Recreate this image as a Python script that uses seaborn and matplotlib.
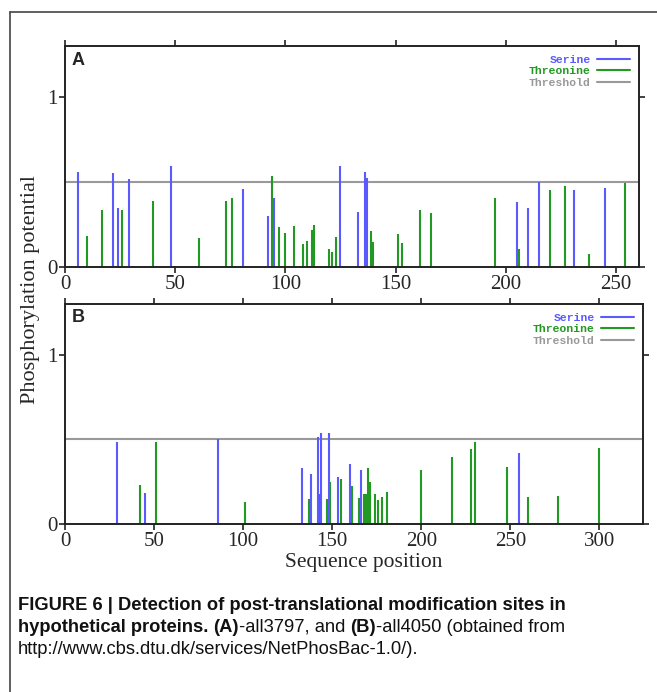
import matplotlib
matplotlib.use("Agg")
import matplotlib.pyplot as plt
from matplotlib.lines import Line2D
import seaborn as sns

# panel A (all3797)
a_ser_pos = [6, 22, 24, 29, 48, 81, 92, 95, 125, 133, 136, 137, 205, 210, 215, 231, 245]
a_ser_val = [0.56, 0.553, 0.346, 0.518, 0.592, 0.456, 0.302, 0.407, 0.596, 0.322, 0.56, 0.521,
             0.383, 0.346, 0.50, 0.455, 0.463]
a_thr_pos = [10, 17, 26, 40, 61, 73, 76, 94, 97, 100, 104, 108, 110, 112, 113, 120, 121, 123,
             139, 140, 151, 153, 161, 166, 195, 206, 220, 227, 238, 254]
a_thr_val = [0.18, 0.334, 0.334, 0.389, 0.168, 0.389, 0.407, 0.536, 0.236, 0.20, 0.242, 0.138,
             0.151, 0.217, 0.246, 0.107, 0.09, 0.176, 0.213, 0.15, 0.193, 0.144, 0.334, 0.316,
             0.406, 0.103, 0.455, 0.475, 0.076, 0.492]

# panel B (all4050)
b_ser_pos = [29, 45, 86, 133, 138, 142, 144, 148, 153, 160, 166, 255]
b_ser_val = [0.482, 0.186, 0.50, 0.331, 0.295, 0.517, 0.535, 0.537, 0.276, 0.357, 0.319, 0.422]
b_thr_pos = [42, 51, 101, 137, 143, 147, 149, 155, 161, 165, 168, 169, 170, 171, 174, 176, 178,
             181, 200, 217, 228, 230, 248, 260, 277, 300]
b_thr_val = [0.233, 0.486, 0.13, 0.146, 0.177, 0.146, 0.25, 0.268, 0.227, 0.154, 0.177, 0.18,
             0.331, 0.25, 0.175, 0.144, 0.161, 0.187, 0.317, 0.398, 0.441, 0.483, 0.337, 0.16,
             0.167, 0.45]

threshold = 0.5
a_ticks = [0, 50, 100, 150, 200, 250]
b_ticks = [0, 50, 100, 150, 200, 250, 300]

sns.set_theme(style="ticks")
plt.rcParams['font.family'] = ['Liberation Serif', 'DejaVu Serif']

blue = '#5a5aff'
green = '#229922'
grey = '#999999'

W, H = 657, 692
fig = plt.figure(figsize=(W / 100, H / 100), dpi=100)


def px_axes(left, top, right, bottom):
    return fig.add_axes([left / W, 1 - bottom / H, (right - left) / W, (bottom - top) / H])


def panel(ax, ser_pos, ser_val, thr_pos, thr_val, xmax, ticks, letter):
    ax.axhline(threshold, color=grey, lw=1.5, zorder=1)
    ax.vlines(thr_pos, 0, thr_val, color=green, lw=1.5, zorder=2)
    ax.vlines(ser_pos, 0, ser_val, color=blue, lw=1.5, zorder=2)
    ax.set_xlim(0, xmax)
    ax.set_ylim(0, 1.3)
    ax.set_xticks(ticks)
    ax.set_yticks([0, 1])
    ax.tick_params(direction='out', length=4.5, width=1.2, color='#222222', labelsize=15,
                   top=True, right=True, labeltop=False, labelright=False, pad=1)
    for s in ax.spines.values():
        s.set_color('#222222')
        s.set_linewidth(1.4)
    ax.text(0.012, 0.975, letter, transform=ax.transAxes, ha='left', va='top',
            fontsize=13, fontweight='bold', family='Liberation Sans')
    handles = [Line2D([], [], color=blue, lw=1.5),
               Line2D([], [], color=green, lw=1.5),
               Line2D([], [], color=grey, lw=1.5)]
    leg = ax.legend(handles, ['Serine', 'Threonine', 'Threshold'], loc='upper right',
                    frameon=False, markerfirst=False, handlelength=2.9, handletextpad=0.6,
                    labelspacing=0.15, borderaxespad=0.75, borderpad=0.0,
                    prop={'family': 'Liberation Mono', 'weight': 'bold', 'size': 8.2})
    for t, c in zip(leg.get_texts(), [blue, green, grey]):
        t.set_color(c)


ax_a = px_axes(65, 46, 639, 267)
panel(ax_a, a_ser_pos, a_ser_val, a_thr_pos, a_thr_val, 260.5, a_ticks, 'A')

ax_b = px_axes(65, 304, 643, 524)
panel(ax_b, b_ser_pos, b_ser_val, b_thr_pos, b_thr_val, 324.5, b_ticks, 'B')

fig.text(31 / W, 1 - 290 / H, 'Phosphorylation potential', rotation=90, ha='center',
         va='center', fontsize=16)
fig.text(364 / W, 1 - 563 / H, 'Sequence position', ha='center', va='center', fontsize=15.5)

# border of the figure page
fig.add_artist(Line2D([10 / W, 10 / W], [0, 1 - 12 / H], color='#444444', lw=1.2))
fig.add_artist(Line2D([10 / W, 1], [1 - 12 / H, 1 - 12 / H], color='#444444', lw=1.2))

# caption, mixed bold / regular runs
cap_font = 'Liberation Sans'
cap_size = 13.2
cap_lines = [
    [("FIGURE 6 | Detection of post-translational modification sites in", 'bold')],
    [("hypothetical proteins. ", 'bold'), ("(A)", 'bold'), ("-all3797, and ", 'normal'),
     ("(B)", 'bold'), ("-all4050 (obtained from", 'normal')],
    [("http://www.cbs.dtu.dk/services/NetPhosBac-1.0/).", 'normal')],
]
cap_y = [605, 627, 649]
renderer = fig.canvas.get_renderer()
for runs, y in zip(cap_lines, cap_y):
    x = 18
    for txt, wt in runs:
        t = fig.text(x / W, 1 - y / H, txt, ha='left', va='center', fontsize=cap_size,
                     fontweight=wt, family=cap_font, color='#111111')
        bb = t.get_window_extent(renderer=renderer)
        x += bb.width

fig.savefig('out.png', dpi=100)
